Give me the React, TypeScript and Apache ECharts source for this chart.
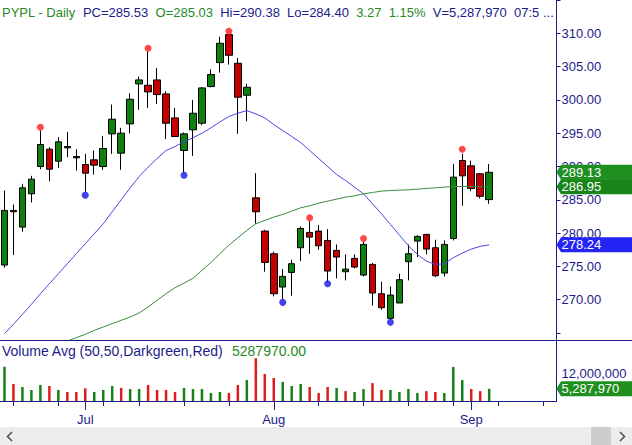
import React, { useEffect, useRef } from "react";
import * as echarts from "echarts";

// ---------- DATA ----------
const dates = [
  "6/18", "6/21", "6/22", "6/23", "6/24", "6/25", "6/28", "6/29", "6/30", "7/1",
  "7/2", "7/6", "7/7", "7/8", "7/9", "7/12", "7/13", "7/14", "7/15", "7/16",
  "7/19", "7/20", "7/21", "7/22", "7/23", "7/26", "7/27", "7/28", "7/29", "7/30",
  "8/2", "8/3", "8/4", "8/5", "8/6", "8/9", "8/10", "8/11", "8/12", "8/13",
  "8/16", "8/17", "8/18", "8/19", "8/20", "8/23", "8/24", "8/25", "8/26", "8/27",
  "8/30", "8/31", "9/1", "9/2", "9/3", "9/6", "9/7", "9/8", "9/9", "9/10",
  "9/13", "9/14",
];

const opens = [
  275.2, 283.4, 280.9, 285.9, 290.0, 292.6, 290.8, 293.0, 291.5, 290.3,
  291.0, 290.0, 294.9, 292.0, 296.4, 302.4, 302.2, 303.0, 300.9, 297.3,
  292.4, 295.5, 296.5, 302.0, 305.6, 309.8, 305.5, 300.7, 285.3, 280.3,
  276.9, 271.9, 274.1, 277.8, 280.1, 280.3, 278.9, 277.4, 274.2, 276.2,
  273.7, 275.3, 270.9, 267.2, 269.5, 275.7, 278.8, 279.8, 277.8, 274.0,
  279.2, 290.9, 290.1, 288.9, 285.03,
];
const highs = [
  286.4, 284.3, 287.4, 288.6, 295.4, 292.9, 294.4, 295.2, 292.6, 291.9,
  292.4, 294.6, 299.3, 295.8, 301.0, 303.5, 307.3, 304.8, 301.3, 298.8,
  295.1, 300.0, 301.9, 304.6, 309.5, 309.9, 306.3, 302.4, 289.0, 280.5,
  277.2, 274.6, 276.0, 281.0, 281.8, 281.2, 280.6, 278.3, 276.8, 276.8,
  278.7, 275.5, 272.7, 272.0, 273.9, 278.3, 279.7, 279.9, 279.0, 278.9,
  290.4, 291.9, 290.9, 289.0, 290.38,
];
const lows = [
  274.8, 276.7, 280.2, 284.6, 289.6, 287.8, 289.8, 291.4, 289.4, 286.2,
  288.8, 289.5, 291.9, 289.5, 295.0, 298.5, 298.8, 299.4, 294.1, 294.4,
  289.1, 291.6, 296.2, 301.9, 304.1, 305.3, 294.9, 296.8, 281.4, 274.2,
  270.5, 270.1, 270.6, 275.8, 276.9, 277.5, 272.7, 273.2, 272.9, 274.7,
  273.5, 269.1, 268.5, 267.0, 269.5, 272.9, 276.4, 276.8, 273.4, 273.5,
  278.9, 284.1, 286.3, 285.2, 284.40,
];
const closes = [
  283.4, 283.2, 286.8, 288.1, 293.3, 289.6, 293.7, 292.8, 291.3, 289.0,
  290.2, 292.7, 297.1, 295.0, 300.1, 303.0, 301.2, 300.8, 296.5, 294.5,
  294.9, 298.0, 301.8, 303.8, 308.5, 306.7, 300.4, 301.9, 283.2, 275.6,
  270.9, 273.5, 275.4, 280.7, 279.4, 278.1, 274.3, 276.4, 274.6, 274.9,
  278.3, 271.0, 268.8, 270.7, 273.0, 276.9, 279.5, 277.6, 273.6, 278.3,
  288.4, 288.6, 286.7, 285.53, 289.13,
];

// volume in millions of shares
const volumes = [
  14.9, 7.4, 6.1, 4.8, 7.0, 6.5, 4.8, 3.9, 3.9, 5.5,
  3.9, 4.8, 6.5, 5.7, 5.2, 5.2, 7.0, 4.8, 4.8, 3.9,
  5.7, 5.2, 5.2, 3.5, 3.9, 3.5, 7.0, 9.1, 18.6, 11.7,
  10.0, 8.3, 6.5, 7.4, 6.1, 3.5, 6.1, 5.7, 4.3, 3.9,
  5.2, 7.8, 4.8, 4.8, 3.9, 5.2, 3.5, 4.3, 3.9, 3.5,
  14.8, 9.1, 5.2, 4.3, 5.28797,
];

// moving averages
const ma20 = [
  264.9, 266.3, 267.8, 269.3, 270.9, 272.4, 273.9, 275.4, 276.9, 278.4,
  279.9, 281.4, 283.2, 285.0, 286.8, 288.5, 289.9, 291.2, 292.4, 293.0,
  293.7, 294.3, 295.0, 295.8, 296.7, 297.5, 298.0, 298.4, 297.9, 297.3,
  296.3, 295.4, 294.5, 293.6, 292.4, 291.2, 290.0, 288.8, 287.9, 286.9,
  285.9, 284.4, 282.9, 281.3, 279.7, 278.1, 276.8, 275.8, 275.3, 275.4,
  276.3, 277.0, 277.6, 278.0, 278.24,
];
const ma50 = [
  null, null, null, null, null, null, null, 263.8, 264.3, 264.8,
  265.4, 265.9, 266.4, 266.9, 267.4, 268.0, 268.9, 269.9, 270.9, 271.8,
  272.5, 273.2, 274.4, 275.6, 276.9, 278.2, 279.3, 280.4, 281.4, 281.9,
  282.4, 282.8, 283.3, 283.8, 284.1, 284.5, 284.8, 285.1, 285.4, 285.6,
  285.9, 286.1, 286.3, 286.4, 286.45, 286.5, 286.6, 286.7, 286.8, 286.9,
  287.0, 287.0, 287.0, 286.95, 286.95,
];

const swingHighIdx = [4, 16, 25, 34, 40, 51];
const swingHighVal = [295.9, 307.75, 310.3, 282.3, 279.2, 292.6];
const swingLowIdx = [9, 20, 31, 36, 43];
const swingLowVal = [285.7, 288.7, 269.6, 272.4, 266.6];

const weekTickIdx = [1, 6, 11, 15, 20, 25, 30, 35, 40, 45, 50, 55, 60];
const monthIdx = [9, 30, 52];
const monthLabels = ["Jul", "Aug", "Sep"];

const priceMin = 265;
const priceMax = 315;
const priceStep = 5;
const volMax = 24;
const volLabelValue = 12;

const lastPrice = 289.13;
const lastMa50 = 286.95;
const lastMa20 = 278.24;
const lastVolume = 5287970;

const headerTexts = [
  "PYPL - Daily", "PC=285.53", "O=285.03", "Hi=290.38", "Lo=284.40",
  "3.27", "1.15%", "V=5,287,970", "07:5 ...",
];
const headerTones = ["g", "n", "g", "n", "n", "g", "g", "n", "n"];
const volumeTitle = "Volume Avg (50,50,Darkgreen,Red)";
const volumeTitleValue = "5287970.00";

// ---------- STYLE ----------
const NAVY = "#1c1c8a";
const GREEN_TXT = "#268a26";
const FONT = "'Liberation Sans', Arial, sans-serif";

export default function App() {
  const ref = useRef<HTMLDivElement>(null);

  useEffect(() => {
    if (!ref.current) return;
    const chart = echarts.init(ref.current, undefined, { renderer: "svg" });

    const candleData = opens.map((o, i) => [o, closes[i], lows[i], highs[i]]);
    const volData = volumes.map((v, i) => ({
      value: v,
      itemStyle: { color: i === 0 || closes[i] >= closes[i - 1] ? "#178017" : "#e01c1c" },
    }));

    const option: any = {
      animation: false,
      backgroundColor: "#ffffff",
      grid: [
        { left: -1.5, width: 558, top: -1, height: 334 },
        { left: -1.5, width: 558, top: 345.8, height: 55.2 },
      ],
      xAxis: [
        {
          type: "category",
          gridIndex: 0,
          data: dates,
          position: "bottom",
          offset: 68,
          axisLine: { show: false },
          axisTick: {
            show: true,
            alignWithLabel: true,
            length: 9,
            interval: (i: number) => monthIdx.includes(i),
            lineStyle: { color: NAVY },
          },
          axisLabel: {
            show: true,
            interval: (i: number) => monthIdx.includes(i),
            formatter: (_v: string, i: number) => {
              const k = monthIdx.indexOf(i);
              return k >= 0 ? monthLabels[k] : "";
            },
            color: NAVY,
            fontSize: 13,
            fontFamily: FONT,
            margin: 12,
          },
          splitLine: { show: false },
        },
        {
          type: "category",
          gridIndex: 1,
          data: dates,
          axisLine: { show: true, lineStyle: { color: NAVY, width: 1 } },
          axisTick: {
            show: true,
            alignWithLabel: true,
            length: 5,
            interval: (i: number) => weekTickIdx.includes(i),
            lineStyle: { color: NAVY },
          },
          axisLabel: { show: false },
          splitLine: { show: false },
        },
      ],
      yAxis: [
        {
          type: "value",
          gridIndex: 0,
          position: "right",
          min: priceMin,
          max: priceMax,
          interval: priceStep,
          axisLine: { show: false },
          axisTick: { show: true, length: 4, lineStyle: { color: NAVY } },
          axisLabel: {
            formatter: (v: number) => (v === priceMin || v === priceMax ? "" : v.toFixed(2)),
            color: NAVY,
            fontSize: 13,
            fontFamily: FONT,
            margin: 5,
          },
          splitLine: { show: false },
        },
        {
          type: "value",
          gridIndex: 1,
          position: "right",
          min: 0,
          max: volMax,
          interval: volLabelValue,
          axisLine: { show: false },
          axisTick: { show: false },
          axisLabel: {
            formatter: (v: number) => (v === volLabelValue ? (v * 1e6).toLocaleString("en-US") : ""),
            color: NAVY,
            fontSize: 13,
            fontFamily: FONT,
            margin: 5,
          },
          splitLine: { show: false },
        },
      ],
      series: [
        {
          type: "candlestick",
          xAxisIndex: 0,
          yAxisIndex: 0,
          data: candleData,
          barWidth: 7,
          itemStyle: {
            color: "#0f800f",
            color0: "#c40000",
            borderColor: "#000000",
            borderColor0: "#000000",
            borderWidth: 1,
          },
        },
        {
          type: "line",
          xAxisIndex: 0,
          yAxisIndex: 0,
          data: ma20,
          symbol: "none",
          clip: false,
          lineStyle: { color: "#4848e0", width: 1 },
        },
        {
          type: "line",
          xAxisIndex: 0,
          yAxisIndex: 0,
          data: ma50,
          symbol: "none",
          clip: false,
          lineStyle: { color: "#3a8c3a", width: 1 },
        },
        {
          type: "scatter",
          xAxisIndex: 0,
          yAxisIndex: 0,
          data: swingHighIdx.map((ix, k) => [ix, swingHighVal[k]]),
          symbolSize: 7,
          itemStyle: { color: "#ff1a1a" },
        },
        {
          type: "scatter",
          xAxisIndex: 0,
          yAxisIndex: 0,
          data: swingLowIdx.map((ix, k) => [ix, swingLowVal[k]]),
          symbolSize: 7,
          itemStyle: { color: "#1414e6" },
        },
        {
          type: "bar",
          xAxisIndex: 1,
          yAxisIndex: 1,
          data: volData,
          barWidth: 2.5,
        },
      ],
    };
    chart.setOption(option);

    const yP = (v: number) => chart.convertToPixel({ yAxisIndex: 0 }, v) as number;
    const yV = (v: number) => chart.convertToPixel({ yAxisIndex: 1 }, v) as number;

    const axisX = 556.5;
    const tag = (yc: number, color: string, text: string) => [
      {
        type: "polygon",
        shape: {
          points: [
            [axisX, yc],
            [axisX + 4.5, yc - 7.5],
            [632, yc - 7.5],
            [632, yc + 7.5],
            [axisX + 4.5, yc + 7.5],
          ],
        },
        style: { fill: color },
        z: 10,
      },
      {
        type: "text",
        x: axisX + 5,
        y: yc,
        style: {
          text,
          fill: "#ffffff",
          fontSize: 13,
          fontFamily: FONT,
          verticalAlign: "middle",
          align: "left",
        },
        z: 11,
      },
    ];

    const headerRich = headerTexts
      .map((t, i) => `{${headerTones[i]}|${t}}`)
      .join("  ");

    const graphics: any[] = [
      // right axis line
      { type: "line", shape: { x1: axisX, y1: 0, x2: axisX, y2: 401.5 }, style: { stroke: NAVY, lineWidth: 1 }, z: 5 },
      // separator between price and volume panes
      { type: "line", shape: { x1: 0, y1: 340.5, x2: 632, y2: 340.5 }, style: { stroke: NAVY, lineWidth: 1 }, z: 5 },
      ...tag(yP(lastPrice), "#1f8f1f", lastPrice.toFixed(2)),
      ...tag(yP(lastMa50), "#198519", lastMa50.toFixed(2)),
      ...tag(yP(lastMa20), "#2424f5", lastMa20.toFixed(2)),
      ...tag(yV(lastVolume / 1e6), "#1f8f1f", lastVolume.toLocaleString("en-US")),
      {
        type: "text",
        x: 2,
        y: 12,
        style: {
          text: headerRich,
          fontSize: 13,
          fontFamily: FONT,
          verticalAlign: "middle",
          fill: NAVY,
          rich: {
            g: { fill: GREEN_TXT, fontSize: 13, fontFamily: FONT },
            n: { fill: NAVY, fontSize: 13, fontFamily: FONT },
          },
        },
        z: 12,
      },
      {
        type: "text",
        x: 2,
        y: 351,
        style: { text: volumeTitle, fill: NAVY, fontSize: 14, fontFamily: FONT, verticalAlign: "middle" },
        z: 12,
      },
      {
        type: "text",
        x: 232,
        y: 351,
        style: { text: volumeTitleValue, fill: GREEN_TXT, fontSize: 14, fontFamily: FONT, verticalAlign: "middle" },
        z: 12,
      },
      // scrollbar
      { type: "rect", shape: { x: 0, y: 427, width: 632, height: 18 }, style: { fill: "#ececec" }, z: 1 },
      { type: "rect", shape: { x: 591, y: 427, width: 20, height: 18 }, style: { fill: "#cdcdcd" }, z: 2 },
      {
        type: "polyline",
        shape: { points: [[12, 432], [7.5, 436.5], [12, 441]] },
        style: { stroke: "#555555", lineWidth: 1.6, fill: null },
        z: 3,
      },
      {
        type: "polyline",
        shape: { points: [[620, 432], [624.5, 436.5], [620, 441]] },
        style: { stroke: "#555555", lineWidth: 1.6, fill: null },
        z: 3,
      },
    ];
    chart.setOption({ graphic: graphics });

    return () => chart.dispose();
  }, []);

  return (
    <div
      ref={ref}
      style={{ position: "fixed", left: 0, top: 0, width: 632, height: 445, background: "#fff" }}
    />
  );
}
